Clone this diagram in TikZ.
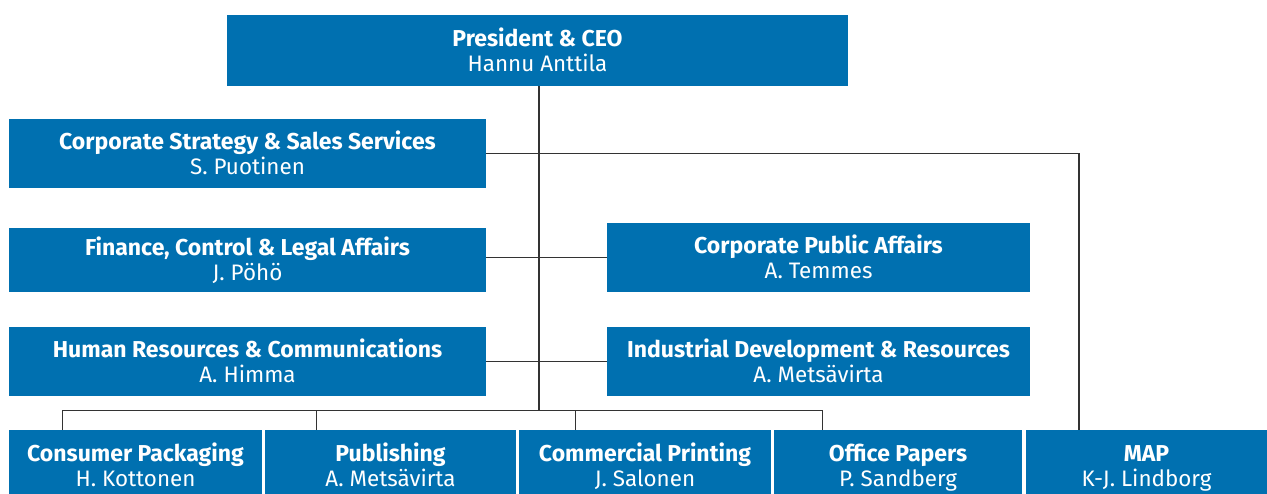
\documentclass[tikz,border=0pt]{standalone}
\usepackage{fontspec}
\setmainfont{Fira Sans}
\usepackage{xcolor}
\usetikzlibrary{calc}
\definecolor{orgblue}{HTML}{0070B0}
\definecolor{linegray}{HTML}{333333}

\tikzset{
    unit/.style={fill=orgblue, text=white, inner sep=0pt, align=center, font=\fontsize{11.2}{12.5}\selectfont},
    link/.style={linegray, line width=0.7pt},
}
\newcommand{\role}[2]{\rule{0pt}{9pt}\smash{\fontsize{11.5}{12.5}\selectfont\textbf{#1}}\\\smash{#2}\rule[-1pt]{0pt}{1pt}}

\begin{document}
\begin{tikzpicture}[x=0.5pt, y=-0.5pt]
        \useasboundingbox (0,0) rectangle (1267,493);
        \node [unit, minimum width=310.5pt, minimum height=35.5pt] (ceo) at (537.5,50.5) {\role{President \& CEO}{Hannu Anttila}};
        \node [unit, minimum width=238.5pt, minimum height=34.5pt] (css) at (247.5,153.5) {\role{Corporate Strategy \& Sales Services}{S. Puotinen}};
        \node [unit, minimum width=238.5pt, minimum height=32pt] (fin) at (247.5,260) {\role{Finance, Control \& Legal Affairs}{J. Pöhö}};
        \node [unit, minimum width=238.5pt, minimum height=34.5pt] (hr) at (247.5,361.5) {\role{Human Resources \& Communications}{A. Himma}};
        \node [unit, minimum width=211.5pt, minimum height=34.5pt] (cpa) at (818.5,257.5) {\role{Corporate Public Affairs}{A. Temmes}};
        \node [unit, minimum width=211.5pt, minimum height=34.5pt] (ind) at (818.5,361.5) {\role{Industrial Development \& Resources}{A. Metsävirta}};

        % bottom row runs past the lower edge of the page
        \node [unit, minimum width=126.5pt, minimum height=35.5pt] (cp) at (135.5,465.5) {\role{Consumer Packaging}{H. Kottonen}};
        \node [unit, minimum width=125.5pt, minimum height=35.5pt] (pub) at (390.5,465.5) {\role{Publishing}{A. Metsävirta}};
        \node [unit, minimum width=126pt, minimum height=35.5pt] (com) at (645,465.5) {\role{Commercial Printing}{J. Salonen}};
        \node [unit, minimum width=124pt, minimum height=35.5pt] (off) at (898,465.5) {\role{Office Papers}{P. Sandberg}};
        \node [unit, minimum width=120.5pt, minimum height=35.5pt] (map) at (1146.5,465.5) {\role{MAP}{K-J. Lindborg}};

        % trunk, side links and bus
        \coordinate (bus) at (539,411);
        \coordinate (mapin) at (1079,430);
        \draw [link] (ceo.south -| bus) to (bus);
        \draw [link] (css.east) -| (mapin);
        \draw [link] (fin.east |- cpa.west) to (cpa.west);
        \draw [link] (hr.east) to (ind.west);
        \draw [link] ($(cp.north west)+(54,0)$) |- ($(off.north west)+(49,-19)$) to ($(off.north west)+(49,0)$);
        \draw [link] ($(pub.north west)+(52,0)$) to ++(0,-19);
        \draw [link] ($(com.north west)+(57,0)$) to ++(0,-19);
    \end{tikzpicture}
\end{document}
